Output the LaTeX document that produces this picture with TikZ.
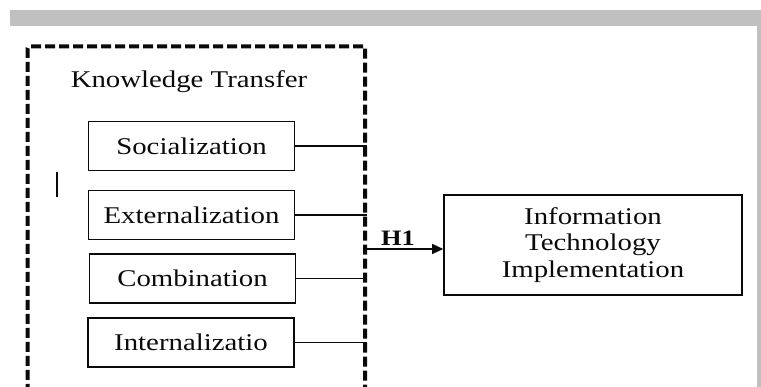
\documentclass[tikz,border=0pt]{standalone}
\usepackage{fontspec}
\setmainfont{Liberation Serif}[FakeStretch=1.2]
\usepackage{tikz}
\usetikzlibrary{
    arrows.meta,
    positioning
}
\definecolor{ink}{RGB}{10,10,10}
\definecolor{pageframe}{RGB}{192,192,192}
\tikzset{
    line join=round,
    label text/.style={
        font=\fontsize{24}{26.5}\selectfont,
        text=ink
    },
    dimension/.style={
        rectangle,
        draw=ink,
        line width=1.6pt,
        minimum width=206pt,
        minimum height=49pt,
        inner sep=0pt,
        label text
    },
    outcome/.style={
        rectangle,
        draw=ink,
        line width=1.6pt,
        minimum width=298pt,
        minimum height=100pt,
        inner sep=0pt,
        align=center,
        label text
    },
    construct/.style={
        rectangle,
        draw=ink,
        line width=4pt,
        dash pattern=on 10pt off 4pt,
        rounded corners=2pt,
        anchor=north west,
        inner sep=0pt
    },
    link/.style={
        draw=ink,
        line width=1.3pt
    },
    effect/.style={
        link,
        -{Triangle[length=11pt,width=10pt]}
    },
    hypothesis/.style={
        font=\bfseries\fontsize{22}{24}\selectfont,
        text=ink
    }
}

\begin{document}
\begin{tikzpicture}[x=1pt, y=-1pt]
\useasboundingbox (0,0) rectangle (761,387);
\clip (0,0) rectangle (761,387);

% Page frame
\fill[pageframe] (10,10) rectangle (761,26);
\fill[pageframe] (757,26) rectangle (761,387);

% Knowledge transfer construct
\node[construct, minimum width=337.5pt, minimum height=350pt] (kt) at (25.5,44.5) {};
\node[label text, anchor=base] (kttitle) at (189,88) {Knowledge Transfer};

% Dimensions
\node[dimension] (soc) at (191.5,146) {Socialization};
\node[dimension] (ext) at (191.5,215) {Externalization};
\node[dimension] (comb) at (192.5,278.5) {Combination};
\node[dimension] (intern) at (191,342.5) {Internalizatio};

\draw[link] (soc.east) -- (soc.east -| kt.east);
\draw[link] (ext.east) -- (ext.east -| kt.east);
\draw[link] (comb.east) -- (comb.east -| kt.east);
\draw[link] (intern.east) -- (intern.east -| kt.east);

% Stray mark
\draw[draw=ink, line width=1.5pt] (57,172) -- (57,197);

% Dependent variable
\node[outcome] (iti) at (593,245) {Information\\Technology\\Implementation};

\coordinate (h1start) at (363,249);
\draw[effect] (h1start) -- (h1start -| iti.west);
\node[hypothesis, anchor=base] (h1) at (398,246) {H1};
\end{tikzpicture}
\end{document}
